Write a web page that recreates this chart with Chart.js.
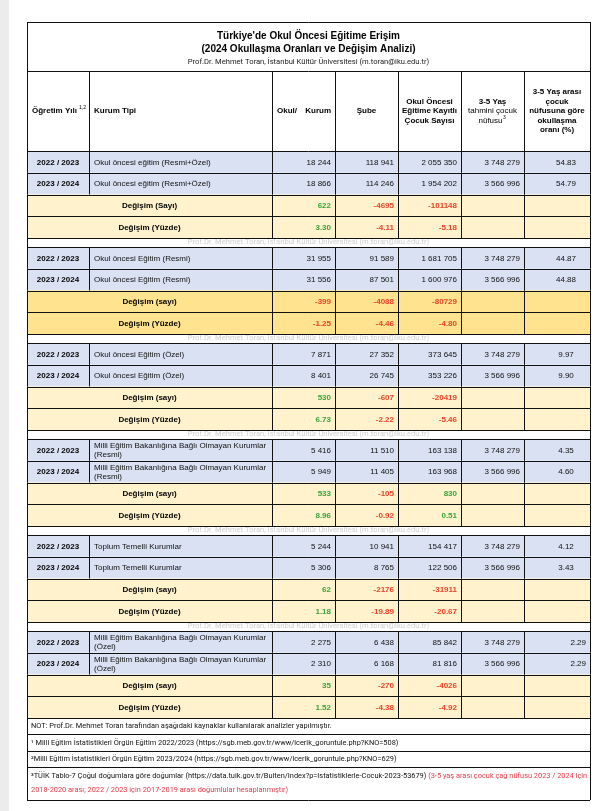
<!DOCTYPE html>
<html lang="tr">
<head>
<meta charset="utf-8">
<title>Türkiye'de Okul Öncesi Eğitime Erişim</title>
<script src="https://cdn.jsdelivr.net/npm/chart.js@4.4.1/dist/chart.umd.min.js"></script>
<style>
  html, body { margin: 0; padding: 0; background: #fff; }
  canvas { display: block; }
</style>
</head>
<body>
<canvas id="tablo" width="607" height="811"></canvas>
<script>
// --- veriler (tablodan okunan degerler) ---
const yillar = ['2022 / 2023', '2023 / 2024'];
const kurumTipleri = [
  ['Okul öncesi eğitim (Resmi+Özel)'],
  ['Okul öncesi Eğitim (Resmi)'],
  ['Okul öncesi Eğitim (Özel)'],
  ['Milli Eğitim Bakanlığına Bağlı Olmayan Kurumlar', '(Resmi)'],
  ['Toplum Temelli Kurumlar'],
  ['Milli Eğitim Bakanlığına Bağlı Olmayan Kurumlar', '(Özel)']
];
const okulKurum = [[18244, 18866], [31955, 31556], [7871, 8401], [5416, 5949], [5244, 5306], [2275, 2310]];
const sube = [[118941, 114246], [91589, 87501], [27352, 26745], [11510, 11405], [10941, 8765], [6438, 6168]];
const kayitliCocuk = [[2055350, 1954202], [1681705, 1600976], [373645, 353226], [163138, 163968], [154417, 122506], [85842, 81816]];
const cocukNufusu = [3748279, 3566996];
const okullasmaOrani = [[54.83, 54.79], [44.87, 44.88], [9.97, 9.90], [4.35, 4.60], [4.12, 3.43], [2.29, 2.29]];
const degisimSayi = [[622, -4695, -101148], [-399, -4088, -80729], [530, -607, -20419], [533, -105, 830], [62, -2176, -31911], [35, -270, -4026]];
const degisimYuzde = [[3.30, -4.11, -5.18], [-1.25, -4.46, -4.80], [6.73, -2.22, -5.46], [8.96, -0.92, 0.51], [1.18, -19.89, -20.67], [1.52, -4.38, -4.92]];
const degisimEtiketleri = [['Değişim (Sayı)', 'Değişim (Yüzde)'], ['Değişim (sayı)', 'Değişim (Yüzde)']];

const baslik = ["Türkiye'de Okul Öncesi Eğitime Erişim", '(2024 Okullaşma Oranları ve Değişim Analizi)'];
const yazar = 'Prof.Dr. Mehmet Toran, İstanbul Kültür Üniversitesi (m.toran@iku.edu.tr)';
const notlar = [
  'NOT: Prof.Dr. Mehmet Toran tarafından aşağıdaki kaynaklar kullanılarak analizler yapılmıştır.',
  '¹ Milli Eğitim İstatistikleri Örgün Eğitim 2022/2023 (https://sgb.meb.gov.tr/www/icerik_goruntule.php?KNO=508)',
  '²Milli Eğitim İstatistikleri Örgün Eğitim 2023/2024 (https://sgb.meb.gov.tr/www/icerik_goruntule.php?KNO=629)'
];
const kaynak3 = '³TÜİK Tablo-7 Çoğul doğumlara göre doğumlar (https://data.tuik.gov.tr/Bulten/Index?p=Istatistiklerle-Cocuk-2023-53679) ';
const kaynak3Kirmizi = ['(3-5 yaş arası çocuk çağ nüfusu 2023 / 2024 için', '2018-2020 arası; 2022 / 2023 için 2017-2019 arası doğumlular hesaplanmıştır)'];

// --- yerlesim ---
const kolonlar = [27, 89, 272, 335, 398, 461, 524, 590];
const tabloUst = 22, baslikAlt = 71, basAlt = 151;
const satirH = 21.75, filigranH = 9;

const yaziFont = '"Liberation Sans", Arial, sans-serif';
const darFont = '"Liberation Sans Narrow", "Roboto", sans-serif';
const mavi = '#d9e1f2', sari = '#fff2cc', koyuSari = '#ffe38f';
const yesil = '#3aa53a', kirmizi = '#e8452a';

const binlik = n => String(n).replace(/\B(?=(\d{3})+(?!\d))/g, ' ');

// satirlari olustur
const satirlar = [];
let yy = basAlt;
kurumTipleri.forEach((k, b) => {
  for (let i = 0; i < 2; i++) { satirlar.push({ tip: 'veri', b, i, y0: yy, y1: yy + satirH }); yy += satirH; }
  for (let i = 0; i < 2; i++) { satirlar.push({ tip: 'degisim', b, i, y0: yy, y1: yy + satirH }); yy += satirH; }
  if (b < kurumTipleri.length - 1) { satirlar.push({ tip: 'filigran', y0: yy, y1: yy + filigranH }); yy += filigranH; }
});
[16, 17, 16, 33].forEach((h, i) => { satirlar.push({ tip: 'not', i, y0: yy, y1: yy + h }); yy += h; });

const tabloCiz = {
  id: 'tabloCiz',
  afterDraw(chart) {
    const ctx = chart.ctx;
    const sx = v => chart.scales.x.getPixelForValue(v);
    const sy = v => chart.scales.y.getPixelForValue(v);
    const kutu = (x0, y0, x1, y1, renk) => { ctx.fillStyle = renk; ctx.fillRect(sx(x0), sy(y0), sx(x1) - sx(x0), sy(y1) - sy(y0)); };
    const yazi = (s, x, y, font, renk, hiza) => {
      ctx.font = font; ctx.fillStyle = renk || '#000'; ctx.textAlign = hiza || 'left'; ctx.textBaseline = 'middle';
      ctx.fillText(s, sx(x), sy(y));
    };
    const yatay = (x0, x1, y) => { const p = Math.round(sy(y)) + 0.5; ctx.beginPath(); ctx.moveTo(sx(x0), p); ctx.lineTo(sx(x1), p); ctx.stroke(); };
    const dikey = (x, y0, y1) => { const p = Math.round(sx(x)) + 0.5; ctx.beginPath(); ctx.moveTo(p, sy(y0)); ctx.lineTo(p, sy(y1)); ctx.stroke(); };
    const sol = kolonlar[0], sag = kolonlar[kolonlar.length - 1];

    ctx.save();
    kutu(0, 0, 9, 811, '#ececec');

    // baslik
    const orta = (sol + sag) / 2;
    yazi(baslik[0], orta, 36, 'bold 10px ' + yaziFont, '#000', 'center');
    yazi(baslik[1], orta, 49.5, 'bold 10px ' + yaziFont, '#000', 'center');
    yazi(yazar, orta, 62.5, '7.6px ' + darFont, '#222', 'center');

    // sutun basliklari
    const bf = 'bold 8px ' + yaziFont, nf = '8px ' + yaziFont;
    const by = (baslikAlt + basAlt) / 2;
    yazi('Öğretim Yılı', kolonlar[0] + 5, by, bf);
    ctx.font = bf; const w0 = ctx.measureText('Öğretim Yılı ').width;
    yazi('1,2', kolonlar[0] + 5 + w0, by - 3, '5px ' + yaziFont);
    yazi('Kurum Tipi', kolonlar[1] + 5, by, bf);
    yazi('Okul/', kolonlar[2] + 5, by, bf);
    yazi('Kurum', kolonlar[3] - 4, by, bf, '#000', 'right');
    yazi('Şube', (kolonlar[3] + kolonlar[4]) / 2, by, bf, '#000', 'center');
    ['Okul Öncesi', 'Eğitime Kayıtlı', 'Çocuk Sayısı'].forEach((s, i) =>
      yazi(s, (kolonlar[4] + kolonlar[5]) / 2, by + (i - 1) * 9.5, bf, '#000', 'center'));
    const c6 = (kolonlar[5] + kolonlar[6]) / 2;
    yazi('3-5 Yaş', c6, by - 9.5, bf, '#000', 'center');
    yazi('tahmini çocuk', c6, by, nf, '#000', 'center');
    ctx.font = nf; const w6 = ctx.measureText('nüfusu').width;
    yazi('nüfusu', c6 - 2, by + 9.5, nf, '#000', 'center');
    yazi('3', c6 - 2 + w6 / 2 + 0.5, by + 6.5, '5px ' + yaziFont);
    ['3-5 Yaş arası', 'çocuk', 'nüfusuna göre', 'okullaşma', 'oranı (%)'].forEach((s, i) =>
      yazi(s, (kolonlar[6] + kolonlar[7]) / 2, by + (i - 2) * 9.5, bf, '#000', 'center'));

    // satirlar
    satirlar.forEach(r => {
      const my = (r.y0 + r.y1) / 2 + 0.5;
      if (r.tip === 'veri') {
        kutu(sol, r.y0, sag, r.y1, mavi);
        yazi(yillar[r.i], (kolonlar[0] + kolonlar[1]) / 2, my, bf, '#000', 'center');
        const kt = kurumTipleri[r.b];
        if (kt.length === 1) yazi(kt[0], kolonlar[1] + 5, my, nf, '#111');
        else kt.forEach((s, j) => yazi(s, kolonlar[1] + 5, my + (j - 0.5) * 9.5, nf, '#111'));
        const degerler = [binlik(okulKurum[r.b][r.i]), binlik(sube[r.b][r.i]), binlik(kayitliCocuk[r.b][r.i]), binlik(cocukNufusu[r.i])];
        degerler.forEach((s, j) => yazi(s, kolonlar[j + 3] - 4, my, nf, '#111', 'right'));
        const oran = okullasmaOrani[r.b][r.i].toFixed(2);
        if (r.b === kurumTipleri.length - 1) yazi(oran, kolonlar[7] - 4, my, nf, '#111', 'right');
        else yazi(oran, 566, my, nf, '#111', 'center');
      } else if (r.tip === 'degisim') {
        kutu(sol, r.y0, sag, r.y1, r.b === 1 ? koyuSari : sari);
        yazi(degisimEtiketleri[r.b === 0 ? 0 : 1][r.i], (kolonlar[0] + kolonlar[2]) / 2, my, bf, '#000', 'center');
        const seri = r.i === 0 ? degisimSayi[r.b] : degisimYuzde[r.b];
        seri.forEach((v, j) => {
          const s = r.i === 0 ? String(v) : v.toFixed(2);
          yazi(s, kolonlar[j + 3] - 4, my, bf, v < 0 ? kirmizi : yesil, 'right');
        });
      } else if (r.tip === 'filigran') {
        yazi(yazar, orta, my - 0.5, '7.6px ' + darFont, '#cfcfcf', 'center');
      } else if (r.tip === 'not') {
        const nfnt = '7.4px ' + darFont;
        if (r.i < 3) yazi(notlar[r.i], sol + 4, my, nfnt, '#111');
        else {
          yazi(kaynak3, sol + 4, r.y0 + 9, nfnt, '#111');
          ctx.font = nfnt; const w = ctx.measureText(kaynak3).width;
          yazi(kaynak3Kirmizi[0], sol + 4 + w, r.y0 + 9, nfnt, '#e0404c');
          yazi(kaynak3Kirmizi[1], sol + 4, r.y0 + 23, nfnt, '#e0404c');
        }
      }
    });

    // cizgiler
    ctx.strokeStyle = '#111'; ctx.lineWidth = 1;
    yatay(sol, sag, tabloUst); yatay(sol, sag, baslikAlt);
    kolonlar.forEach(x => dikey(x, baslikAlt, basAlt));
    dikey(sol, tabloUst, baslikAlt); dikey(sag, tabloUst, baslikAlt);
    satirlar.forEach(r => {
      yatay(sol, sag, r.y0); yatay(sol, sag, r.y1);
      let xs = [sol, sag];
      if (r.tip === 'veri') xs = kolonlar;
      if (r.tip === 'degisim') xs = kolonlar.filter((x, j) => j !== 1);
      xs.forEach(x => dikey(x, r.y0, r.y1));
    });
    ctx.restore();
  }
};

new Chart(document.getElementById('tablo'), {
  type: 'scatter',
  data: { datasets: [] },
  options: {
    responsive: false,
    animation: false,
    layout: { padding: 0 },
    plugins: { legend: { display: false }, tooltip: { enabled: false } },
    scales: {
      x: { type: 'linear', min: 0, max: 607, display: false },
      y: { type: 'linear', min: 0, max: 811, reverse: true, display: false }
    }
  },
  plugins: [tabloCiz]
});
</script>
</body>
</html>
